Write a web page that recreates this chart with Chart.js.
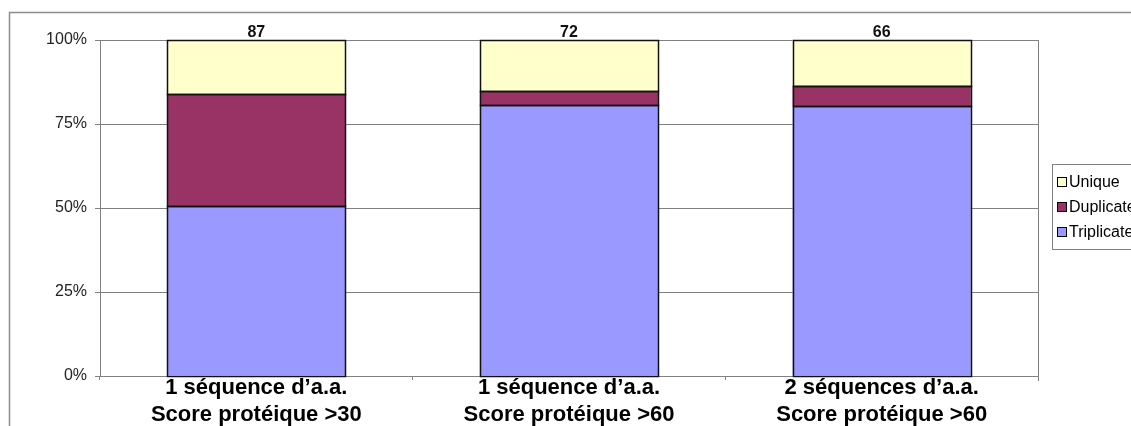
<!DOCTYPE html>
<html>
<head>
<meta charset="utf-8">
<script src="https://cdn.jsdelivr.net/npm/chart.js@4/dist/chart.umd.min.js"></script>
<style>
  html, body { margin: 0; padding: 0; background: #fff; overflow: hidden; }
  canvas { display: block; }
</style>
</head>
<body>
<canvas id="chart" width="1131" height="426"></canvas>
<script>
// peptide counts per condition
const categories = [
    ['1 séquence d\u2019a.a.', 'Score protéique >30'],
    ['1 séquence d\u2019a.a.', 'Score protéique >60'],
    ['2 séquences d\u2019a.a.', 'Score protéique >60']
];
const triplicate = [44, 58, 53];
const duplicate = [29, 3, 4];
const unique = [14, 11, 9];
const yTicks = [0, 25, 50, 75, 100];

const totals = categories.map((c, i) => triplicate[i] + duplicate[i] + unique[i]);
const pct = arr => arr.map((v, i) => v / totals[i] * 100);

const GRID = '#808080';
const FONT = '"Liberation Sans", Arial, sans-serif';

// outer chart frame (Excel-style)
const framePlugin = {
    id: 'frame',
    beforeDraw(chart) {
        const ctx = chart.ctx;
        ctx.save();
        ctx.strokeStyle = '#8c8c8c';
        ctx.lineWidth = 1.5;
        ctx.strokeRect(9.5, 12.5, 2000, 2000);
        ctx.restore();
    }
};

// right edge of the plot area, bar outlines, totals on top of bars, boxed legend
const extrasPlugin = {
    id: 'extras',
    afterDraw(chart) {
        const ctx = chart.ctx;
        const area = chart.chartArea;
        ctx.save();

        ctx.strokeStyle = GRID;
        ctx.lineWidth = 1;
        ctx.beginPath();
        ctx.moveTo(Math.round(area.right) + 0.5, area.top);
        ctx.lineTo(Math.round(area.right) + 0.5, area.bottom + 5);
        ctx.stroke();

        // crisp black outline around every segment
        ctx.strokeStyle = '#111';
        ctx.lineWidth = 1.5;
        chart.data.datasets.forEach((ds, d) => {
            chart.getDatasetMeta(d).data.forEach(bar => {
                const p = bar.getProps(['x', 'y', 'base', 'width'], true);
                const left = Math.round(p.x - p.width / 2);
                const right = Math.round(p.x + p.width / 2);
                const top = Math.round(Math.min(p.y, p.base));
                const bottom = Math.round(Math.max(p.y, p.base));
                ctx.strokeRect(left + 0.5, top + 0.5, right - left, bottom - top);
            });
        });

        const meta = chart.getDatasetMeta(chart.data.datasets.length - 1);
        ctx.fillStyle = '#111';
        ctx.font = 'bold 16px ' + FONT;
        ctx.textAlign = 'center';
        ctx.textBaseline = 'alphabetic';
        meta.data.forEach((bar, i) => {
            ctx.fillText(String(totals[i]), bar.x, area.top - 3);
        });

        // legend
        const lx = 1052.5, ly = 164.5;
        ctx.lineWidth = 1;
        ctx.fillStyle = '#fff';
        ctx.fillRect(lx, ly, 200, 85);
        ctx.strokeStyle = GRID;
        ctx.strokeRect(lx, ly, 200, 85);
        const items = chart.data.datasets.slice().reverse();
        ctx.font = '16px ' + FONT;
        ctx.textAlign = 'left';
        ctx.textBaseline = 'middle';
        items.forEach((ds, i) => {
            const cy = 182 + i * 25;
            ctx.fillStyle = ds.backgroundColor;
            ctx.fillRect(1057.5, cy - 4.5, 9, 9);
            ctx.strokeStyle = '#000';
            ctx.strokeRect(1057.5, cy - 4.5, 9, 9);
            ctx.fillStyle = '#000';
            ctx.fillText(ds.label, 1069, cy + 1);
        });
        ctx.restore();
    }
};

new Chart(document.getElementById('chart'), {
    type: 'bar',
    data: {
        labels: categories,
        datasets: [
            { label: 'Triplicate', data: pct(triplicate), backgroundColor: '#9999FF' },
            { label: 'Duplicate', data: pct(duplicate), backgroundColor: '#993366' },
            { label: 'Unique', data: pct(unique), backgroundColor: '#FFFFCC' }
        ].map(ds => ({
            ...ds,
            borderWidth: 0,
            categoryPercentage: 1,
            barPercentage: 0.57
        }))
    },
    options: {
        responsive: false,
        animation: false,
        layout: { padding: { left: 0, right: 93, top: 40, bottom: 0 } },
        plugins: {
            legend: { display: false },
            tooltip: { enabled: false }
        },
        scales: {
            x: {
                stacked: true,
                grid: { drawOnChartArea: false, offset: true, color: GRID, tickLength: 4 },
                border: { color: GRID },
                ticks: {
                    color: '#000',
                    padding: -5,
                    maxRotation: 0,
                    font: { family: FONT, size: 22, weight: 'bold', lineHeight: 1.2 }
                },
                afterFit: scale => { scale.height = 50; }
            },
            y: {
                stacked: true,
                min: 0,
                max: 100,
                afterBuildTicks: scale => { scale.ticks = yTicks.map(v => ({ value: v })); },
                grid: { color: GRID, tickLength: 5 },
                border: { color: GRID },
                ticks: {
                    color: '#222',
                    padding: 8,
                    font: { family: FONT, size: 16 },
                    callback: v => v + '%'
                },
                afterFit: scale => { scale.width = 100; }
            }
        }
    },
    plugins: [framePlugin, extrasPlugin]
});
</script>
</body>
</html>
